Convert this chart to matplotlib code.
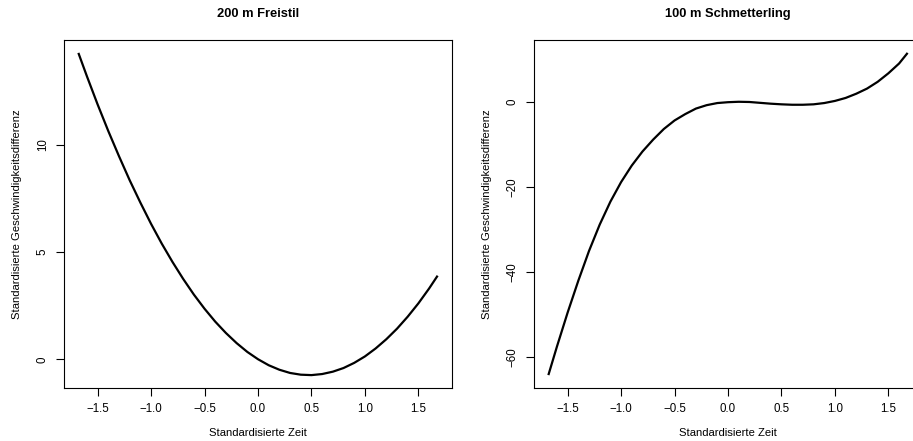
import matplotlib
matplotlib.use("Agg")
import matplotlib.pyplot as plt

plt.rcParams['font.family'] = ['Liberation Sans', 'DejaVu Sans']

# Panel 1: 200 m Freistil
x_free = [-1.68, -1.6, -1.5, -1.4, -1.3, -1.2, -1.1, -1.0, -0.9, -0.8, -0.7, -0.6,
          -0.5, -0.4, -0.3, -0.2, -0.1, 0.0, 0.1, 0.2, 0.3, 0.4, 0.5, 0.6, 0.7,
          0.8, 0.9, 1.0, 1.1, 1.2, 1.3, 1.4, 1.5, 1.6, 1.68]
y_free = [14.27, 13.18, 11.87, 10.63, 9.46, 8.34, 7.30, 6.31, 5.39, 4.54, 3.75, 3.02,
          2.36, 1.76, 1.23, 0.76, 0.35, 0.01, -0.27, -0.48, -0.63, -0.71, -0.73, -0.68,
          -0.57, -0.40, -0.16, 0.14, 0.51, 0.94, 1.43, 1.99, 2.61, 3.30, 3.90]

# Panel 2: 100 m Schmetterling
x_fly = x_free
y_fly = [-64.2, -57.5, -49.5, -42.0, -35.0, -28.8, -23.4, -18.8, -14.9, -11.6, -8.8, -6.3,
         -4.3, -2.8, -1.5, -0.7, -0.2, 0.0, 0.1, 0.05, -0.15, -0.35, -0.5, -0.6, -0.6,
         -0.5, -0.2, 0.3, 1.0, 2.0, 3.2, 4.8, 6.8, 9.1, 11.6]

titles = ["200 m Freistil", "100 m Schmetterling"]
xlabel = "Standardisierte Zeit"
ylabel = "Standardisierte Geschwindigkeitsdifferenz"
xticks = [-1.5, -1.0, -0.5, 0.0, 0.5, 1.0, 1.5]
yticks_free = [0, 5, 10]
yticks_fly = [-60, -40, -20, 0]

W, H = 913, 441
fig = plt.figure(figsize=(W / 100, H / 100), dpi=100)

panels = [(64, x_free, y_free, titles[0], yticks_free),
          (534, x_fly, y_fly, titles[1], yticks_fly)]

for left, x, y, title, yticks in panels:
    ax = fig.add_axes([left / W, (H - 388) / H, 388 / W, 348 / H])
    ax.plot(x, y, color='black', lw=1.6, solid_capstyle='butt',
            solid_joinstyle='round')
    xr = max(x) - min(x)
    yr = max(y) - min(y)
    ax.set_xlim(min(x) - 0.04 * xr, max(x) + 0.04 * xr)
    ax.set_ylim(min(y) - 0.04 * yr, max(y) + 0.04 * yr)
    ax.set_xticks(xticks)
    ax.set_xticklabels([f"{v:.1f}".replace('-', '\u2212') for v in xticks])
    ax.set_yticks(yticks)
    ax.set_yticklabels([str(v).replace('-', '\u2212') for v in yticks],
                       rotation=90, va='center')
    ax.tick_params(direction='out', length=6, width=0.8, labelsize=8.3,
                   colors='black', pad=5)
    for s in ax.spines.values():
        s.set_linewidth(0.8)
        s.set_color('black')
    cx = (left + 194) / W
    fig.text(cx, 1 - 14 / H, title, fontsize=9.3, fontweight='bold',
             ha='center', va='center')
    fig.text(cx, 1 - 433 / H, xlabel, fontsize=8.1, ha='center', va='center')
    fig.text((left - 47) / W, 1 - 214 / H, ylabel, fontsize=8.1, rotation=90,
             ha='center', va='center')

fig.savefig("out.png", dpi=100)
